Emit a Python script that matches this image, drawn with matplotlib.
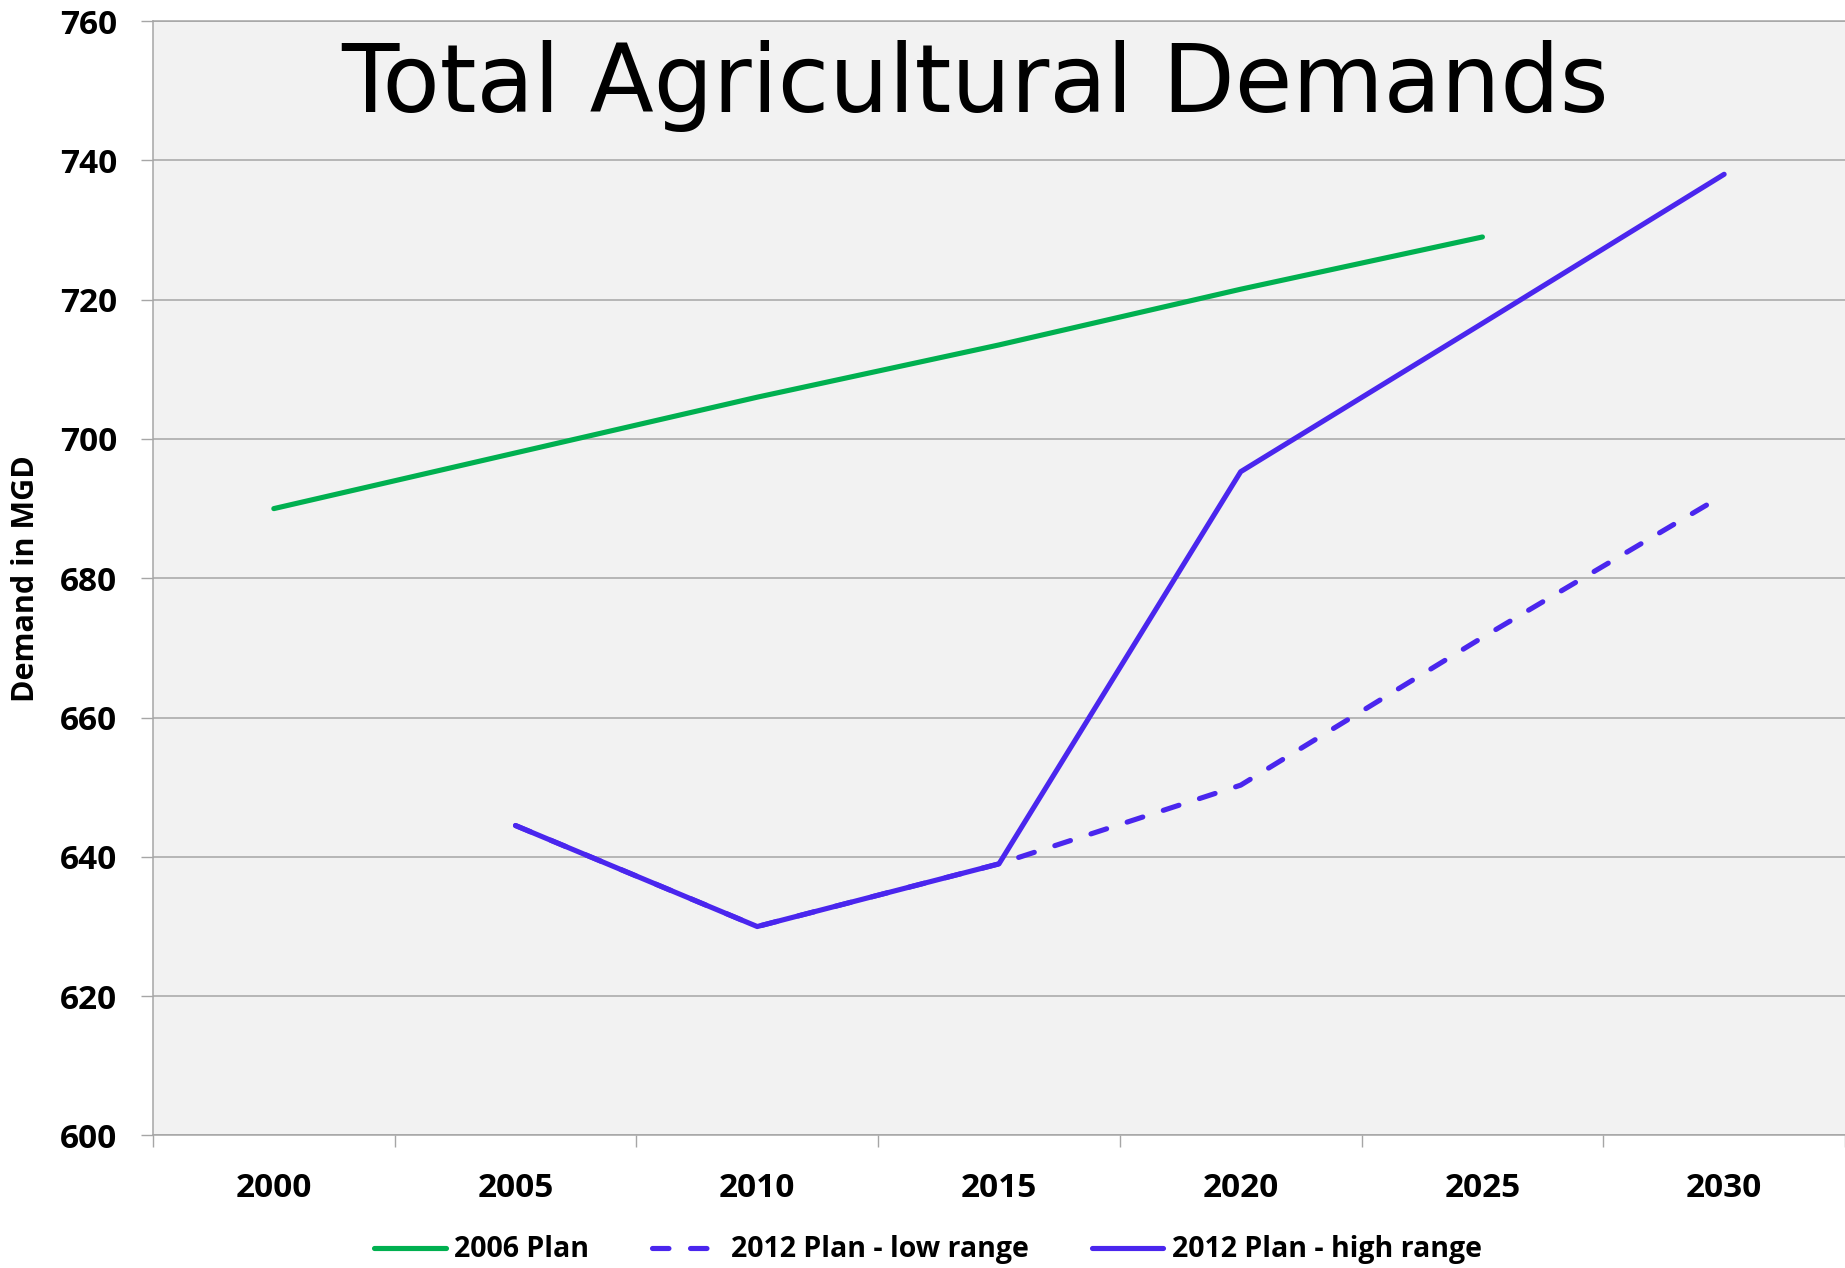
"""Total agricultural demands: 2006 plan vs 2012 plan ranges."""

import matplotlib
matplotlib.use("Agg")
import matplotlib.pyplot as plt
import numpy as np

# data (MGD)
years = ["2000", "2005", "2010", "2015", "2020", "2025", "2030"]
plan_2006 = [690, 698, 706, 713.5, 721.5, 729, np.nan]
plan_2012_low = [np.nan, 644.5, 630, 639, 650.3, 671.5, 692]
plan_2012_high = [np.nan, 644.5, 630, 639, 695.3, 716.6, 738]
y_ticks = [600, 620, 640, 660, 680, 700, 720, 740, 760]

GREEN = "#00B050"
PURPLE = "#4A26EE"
GRID = "#A6A6A6"

plt.rcParams["font.family"] = ["Open Sans", "DejaVu Sans"]
plt.rcParams["font.weight"] = "bold"

fig = plt.figure(figsize=(18.45, 12.68), dpi=100)
ax = fig.add_axes([0.0829, 0.1045, 0.9171, 0.8789])
ax.set_facecolor("#F2F2F2")

x = np.arange(len(years))
ax.plot(x, plan_2006, color=GREEN, lw=3.7, solid_capstyle="round",
        solid_joinstyle="round", label="2006 Plan", zorder=3)
ax.plot(x, plan_2012_low, color=PURPLE, lw=3.7, linestyle=(0, (3.2, 4.2)),
        dash_capstyle="round", dash_joinstyle="round",
        label="2012 Plan - low range", zorder=3)
ax.plot(x, plan_2012_high, color=PURPLE, lw=3.7, solid_capstyle="round",
        solid_joinstyle="round", label="2012 Plan - high range", zorder=4)

# axes limits and ticks
ax.set_xlim(-0.5, len(years) - 0.5)
ax.set_ylim(600, 760)
ax.set_yticks(y_ticks)
ax.tick_params(axis="y", length=8.6, width=1, color=GRID, pad=17, labelsize=24)
ax.set_xticks(x)
ax.set_xticklabels(years)
ax.tick_params(axis="x", which="major", length=0, pad=26, labelsize=24)
ax.set_xticks(np.arange(-0.5, len(years), 1), minor=True)
ax.tick_params(axis="x", which="minor", length=8.6, width=1, color=GRID)

ax.yaxis.grid(True, color=GRID, lw=1.1)
ax.set_axisbelow(True)
for side in ["left", "bottom", "top"]:
    ax.spines[side].set_color(GRID)
    ax.spines[side].set_linewidth(1.1)
ax.spines["right"].set_visible(False)

ax.set_ylabel("Demand in MGD", fontsize=22, fontweight="bold", va="center")
ax.yaxis.set_label_coords(-0.075, 0.5)

# title sits inside the plot area
fig.text(975 / 1845, 1 - 112 / 1268, "Total Agricultural Demands",
         ha="center", va="baseline", fontsize=67.5, fontweight="normal",
         family="DejaVu Sans", color="black")

fig.legend(loc="center", bbox_to_anchor=(0.503, 0.0142), ncol=3,
           frameon=False, fontsize=20.5, handlelength=2.5, handletextpad=0.3,
           columnspacing=2.2)

fig.savefig("out.png", dpi=100)
